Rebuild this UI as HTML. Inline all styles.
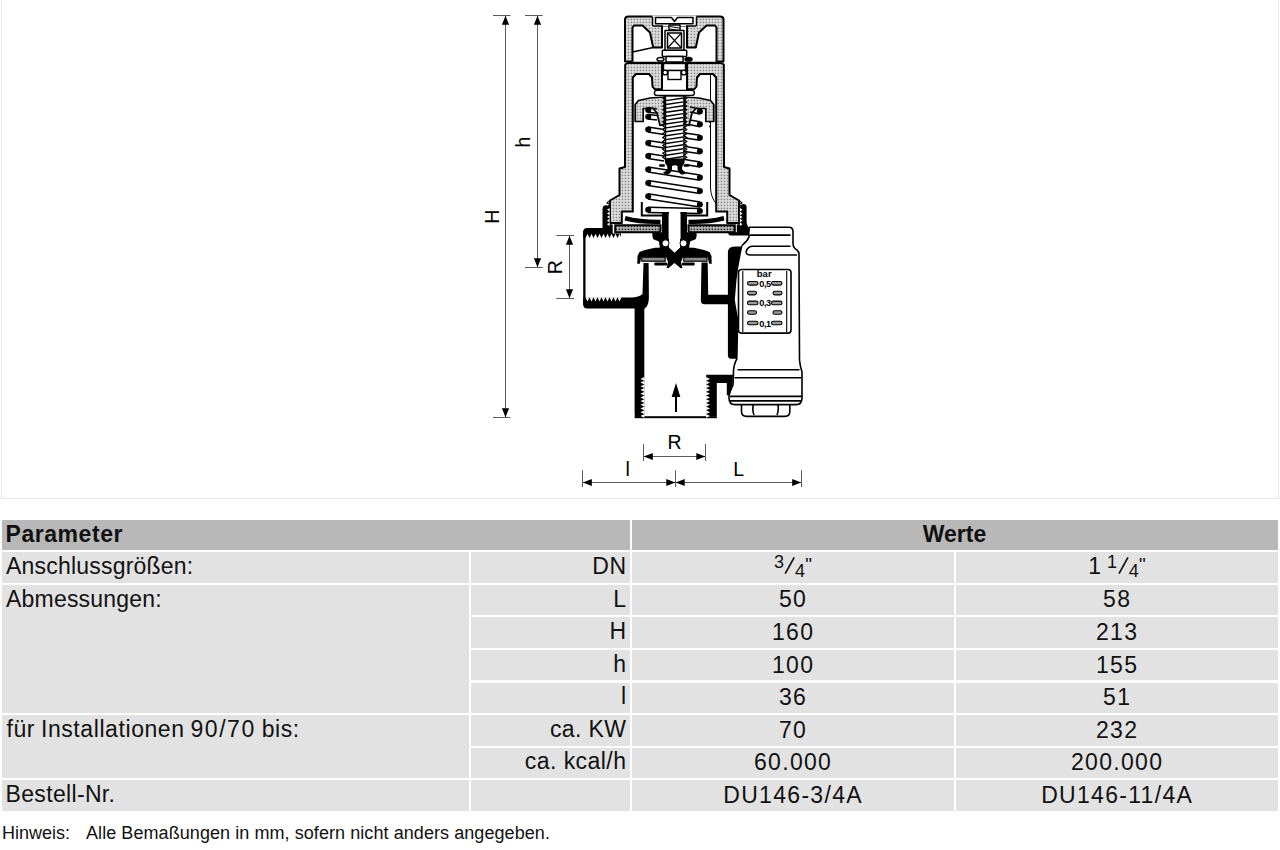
<!DOCTYPE html>
<html><head><meta charset="utf-8"><style>
html,body{margin:0;padding:0;background:#fff;width:1280px;height:850px;overflow:hidden;}
body{position:relative;font-family:"Liberation Sans", sans-serif;color:#111;}
#frame{position:absolute;left:1px;top:-2px;width:1276px;height:499px;border:1px solid #e6e6e6;}
</style></head><body>
<div id="frame"></div>
<svg style="position:absolute;left:0;top:0" width="1280" height="500" viewBox="0 0 1280 500">
<defs><pattern id="stip" width="3" height="3" patternUnits="userSpaceOnUse"><rect width="3" height="3" fill="#e6e6e6"/><rect x="0.6" y="0.6" width="1.7" height="1.7" fill="#8a8a8a"/></pattern><pattern id="stipd" width="3" height="3" patternUnits="userSpaceOnUse"><rect width="3" height="3" fill="#c8c8c8"/><rect x="0.5" y="0.5" width="1.8" height="1.8" fill="#333"/></pattern></defs>
<g stroke="#5a5a5a" stroke-width="1" fill="none">
<line x1="505.5" y1="16" x2="505.5" y2="417.5"/>
<line x1="493" y1="15.5" x2="510.5" y2="15.5"/>
<line x1="493" y1="417.5" x2="510.3" y2="417.5"/>
<line x1="537.5" y1="16" x2="537.5" y2="267.4"/>
<line x1="525" y1="15.5" x2="542.7" y2="15.5"/>
<line x1="525" y1="267.5" x2="542.7" y2="267.5"/>
<line x1="569.5" y1="236" x2="569.5" y2="298"/>
<line x1="556.4" y1="235.5" x2="574" y2="235.5"/>
<line x1="556.4" y1="298.5" x2="574" y2="298.5"/>
<line x1="644" y1="456.5" x2="705.7" y2="456.5"/>
<line x1="643.5" y1="444" x2="643.5" y2="461"/>
<line x1="705.5" y1="444" x2="705.5" y2="461"/>
<line x1="583" y1="482.5" x2="801.4" y2="482.5"/>
<line x1="582.5" y1="470.3" x2="582.5" y2="487"/>
<line x1="675.5" y1="470.3" x2="675.5" y2="487"/>
<line x1="801.5" y1="470.3" x2="801.5" y2="487"/>
</g>
<g fill="#000">
<polygon points="505.5,15.8 509.1,24.8 501.9,24.8"/>
<polygon points="505.5,417.2 501.9,408.2 509.1,408.2"/>
<polygon points="537.5,15.8 541.1,24.8 533.9,24.8"/>
<polygon points="537.5,267.2 533.9,258.2 541.1,258.2"/>
<polygon points="569.5,235.8 573.1,244.8 565.9,244.8"/>
<polygon points="569.5,298.2 565.9,289.2 573.1,289.2"/>
<polygon points="643.8,456.5 652.8,452.9 652.8,460.1"/>
<polygon points="705.3,456.5 696.3,460.1 696.3,452.9"/>
<polygon points="582.8,482.5 591.8,478.9 591.8,486.1"/>
<polygon points="675.3,482.5 666.3,486.1 666.3,478.9"/>
<polygon points="675.7,482.5 684.7,478.9 684.7,486.1"/>
<polygon points="801.2,482.5 792.2,486.1 792.2,478.9"/>
</g>
<g font-family="Liberation Sans, sans-serif" font-size="19.5" fill="#000">
<text transform="translate(498.5,223.8) rotate(-90)" x="0" y="0">H</text>
<text transform="translate(530.2,147.6) rotate(-90)" x="0" y="0">h</text>
<text transform="translate(561.5,274.3) rotate(-90)" x="0" y="0">R</text>
<text x="667.4" y="448.6">R</text>
<text x="625.6" y="475.8">l</text>
<text x="733.3" y="475.8">L</text>
</g>
<g stroke="#000" stroke-width="2" stroke-linejoin="round">
<path d="M625,61.6 L625,19.5 Q625,16.4 628.5,16.4 L720,16.4 Q723.5,16.4 723.5,19.5 L723.5,61.6 Z" fill="url(#stip)"/>
<polygon points="632.5,61.8 632.5,27.5 634.0,25.5 642.5,25.5 650.0,32.5 653.2,47.5 662.0,47.5 662.0,25.5 687.0,25.5 687.0,47.5 695.8,47.5 699.0,32.5 706.5,25.5 715.0,25.5 716.5,27.5 716.5,61.8" fill="#fff" stroke="none"/>
<polyline points="632.5,61.8 632.5,27.5 634.0,25.5 642.5,25.5 650.0,32.5 653.2,47.5 662.0,47.5 662.0,25.5 687.0,25.5 687.0,47.5 695.8,47.5 699.0,32.5 706.5,25.5 715.0,25.5 716.5,27.5 716.5,61.8" fill="none"/>
</g>
<g stroke="#000" stroke-width="1.5" fill="#fff" stroke-linejoin="round">
<path d="M652,15.5 L652,26 L696.5,26 L696.5,15.5" fill="#fff" stroke="none"/>
<path d="M652.5,16.4 V24.5 Q652.5,26 654,26 H663 M686,26 H695 Q696.5,26 696.5,24.5 V16.4" fill="none"/>
<path d="M655.5,17.5 H671.5 L674.5,21.5 L677.5,17.5 H693 V23.8 H655.5 Z"/>
<line x1="632.5" y1="52" x2="653.2" y2="47.5" stroke-width="1.4"/>
<rect x="669" y="25" width="11" height="5.5" />
<path d="M670,26.5 L679,28 M670,29 L679,30.5" stroke-width="1"/>
<rect x="665" y="30.5" width="19" height="20" />
<rect x="667.5" y="33" width="14" height="15" />
<line x1="667.5" y1="33" x2="681.5" y2="48" stroke-width="1.1"/><line x1="681.5" y1="33" x2="667.5" y2="48" stroke-width="1.1"/>
<rect x="662.3" y="50.3" width="24.4" height="6.2" rx="1"/>
<rect x="666" y="56.5" width="17" height="5.5" />
<ellipse cx="660.5" cy="59.3" rx="3.5" ry="1.8"/>
<ellipse cx="688.5" cy="59.3" rx="3.5" ry="1.8" fill="#000"/>
</g>
<g stroke="#000" stroke-width="2" stroke-linejoin="round">
<polygon points="674.5,63.0 627.5,63.0 625.2,64.5 625.0,167.0 619.5,168.5 619.5,195.0 610.0,200.5 610.0,223.0 621.8,223.0 621.8,211.5 631.5,211.5 631.5,212.0 717.5,212.0 717.5,211.5 727.2,211.5 727.2,223.0 739.0,223.0 739.0,200.5 729.5,195.0 729.5,168.5 724.0,167.0 723.8,64.5 721.5,63.0 674.5,63.0" fill="url(#stip)" stroke="none"/>
<polyline points="674.5,63.0 627.5,63.0 625.2,64.5 625.0,167.0 619.5,168.5 619.5,195.0 610.0,200.5 610.0,223.0 621.8,223.0 621.8,211.5 631.5,211.5 631.5,212.0" fill="none"/>
<polyline points="674.5,63.0 721.5,63.0 723.8,64.5 724.0,167.0 729.5,168.5 729.5,195.0 739.0,200.5 739.0,223.0 727.2,223.0 727.2,211.5 717.5,211.5 717.5,212.0" fill="none"/>
<polygon points="632.8,212.5 632.8,77.5 636.0,74.0 649.0,74.0 652.0,77.5 652.5,86.5 654.5,89.0 662.0,89.2 662.0,63.5 687.0,63.5 687.0,89.2 694.5,89.0 696.5,86.5 697.0,77.5 700.0,74.0 713.0,74.0 716.2,77.5 716.2,212.5" fill="#fff" stroke="none"/>
<polyline points="632.8,212.5 632.8,77.5 636.0,74.0 649.0,74.0 652.0,77.5 652.5,86.5 654.5,89.0 662.0,89.2 662.0,63.5 687.0,63.5 687.0,89.2 694.5,89.0 696.5,86.5 697.0,77.5 700.0,74.0 713.0,74.0 716.2,77.5 716.2,212.5" fill="none"/>
</g>
<g fill="#fff" stroke="#000" stroke-width="1.1" stroke-linejoin="miter">
<polyline points="610.0,200.5 607.0,202.9 610.2,204.8 607.0,206.7 610.2,208.6 607.0,210.5 610.2,212.4 607.0,214.3 610.2,216.2 607.0,218.1 610.2,220.0 607.0,221.9 610.2,223.8" fill="none"/>
<polyline points="739.0,200.5 742.0,202.9 738.8,204.8 742.0,206.7 738.8,208.6 742.0,210.5 738.8,212.4 742.0,214.3 738.8,216.2 742.0,218.1 738.8,220.0 742.0,221.9 738.8,223.8" fill="none"/>
</g>
<g stroke="#000" stroke-width="1.4" fill="#fff">
<rect x="663.5" y="63.5" width="22" height="7" />
<rect x="668" y="70.5" width="13" height="9" />
<circle cx="665.2" cy="72.5" r="2.4"/><circle cx="683.8" cy="72.5" r="2.4"/>
<rect x="654.4" y="90.4" width="40" height="5" rx="2.4"/>
<path d="M710.5,75 V188 Q711,198 716.5,204" fill="none" stroke-width="1"/>
<path d="M709.5,103 V130" stroke-dasharray="2,2.5" fill="none" stroke-width="0.8"/>
</g>
<g stroke="#000" stroke-width="1.7" stroke-linejoin="round" fill="url(#stip)">
<polygon points="635.2,121.5 635.2,104.5 638.5,100.5 650.0,98.0 664.5,97.0 664.5,124.0 660.0,125.5 657.0,113.0 653.0,108.5 643.2,108.5 643.2,121.5"/>
<polygon points="713.8,121.5 713.8,104.5 710.5,100.5 699.0,98.0 684.5,97.0 684.5,124.0 689.0,125.5 692.0,113.0 696.0,108.5 705.8,108.5 705.8,121.5"/>
</g>
<g stroke="#000" fill="none" stroke-width="1.5">
<path d="M648,166.9 L700,175.0 M648,172.1 L700,180.2"/>
<path d="M648,180.4 L700,188.4 M648,185.6 L700,193.6"/>
<path d="M648,193.7 L700,201.9 M648,198.9 L700,207.1"/>
<path d="M648,207.2 L700,208.4 M648,212.4 L700,213.6"/>
<path d="M648,127.1 L664,129.6 M648,132.1 L664,134.6"/>
<path d="M685,132.9 L700,135.3 M685,137.9 L700,140.3"/>
<path d="M648,140.5 L664,143.1 M648,145.5 L664,148.1"/>
<path d="M685,146.4 L700,148.8 M685,151.4 L700,153.8"/>
<path d="M648,153.5 L664,156.1 M648,158.5 L664,161.1"/>
<path d="M685,159.5 L700,161.9 M685,164.5 L700,166.9"/>
<path d="M648,107.7 L657,108.7 M648,112.3 L657,113.3"/>
<path d="M648,114.4 L657,115.4 M648,119.0 L657,120.0"/>
<path d="M690,107.1 L700,108.9 M690,111.9 L700,113.9"/>
<path d="M690,120.0 L700,121.8 M690,124.8 L700,126.8"/>
</g>
<g fill="#000">
<circle cx="648.2" cy="110" r="3.0"/>
<circle cx="648.2" cy="116.7" r="3.0"/>
<circle cx="648.2" cy="129.6" r="3.0"/>
<circle cx="648.2" cy="143" r="3.0"/>
<circle cx="648.2" cy="156" r="3.0"/>
<circle cx="648.2" cy="169.5" r="3.0"/>
<circle cx="648.2" cy="183" r="3.0"/>
<circle cx="648.2" cy="196.3" r="3.0"/>
<circle cx="648.2" cy="209.8" r="3.0"/>
<circle cx="699.9" cy="111.4" r="3.0"/>
<circle cx="699.9" cy="124.3" r="3.0"/>
<circle cx="699.9" cy="137.8" r="3.0"/>
<circle cx="699.9" cy="151.3" r="3.0"/>
<circle cx="699.9" cy="164.4" r="3.0"/>
<circle cx="699.9" cy="177.6" r="3.0"/>
<circle cx="699.9" cy="191" r="3.0"/>
<circle cx="699.9" cy="204.5" r="3.0"/>
<circle cx="699.9" cy="211" r="3.0"/>
</g>
<g stroke="#000" stroke-width="1.4">
<rect x="665.5" y="96" width="18.5" height="64" fill="#fff"/>
<line x1="666" y1="100.6" x2="683.5" y2="98.0"/>
<line x1="666" y1="104.5" x2="683.5" y2="101.9"/>
<line x1="666" y1="108.4" x2="683.5" y2="105.8"/>
<line x1="666" y1="112.3" x2="683.5" y2="109.7"/>
<line x1="666" y1="116.2" x2="683.5" y2="113.6"/>
<line x1="666" y1="120.1" x2="683.5" y2="117.5"/>
<line x1="666" y1="124.0" x2="683.5" y2="121.4"/>
<line x1="666" y1="127.9" x2="683.5" y2="125.3"/>
<line x1="666" y1="131.8" x2="683.5" y2="129.2"/>
<line x1="666" y1="135.7" x2="683.5" y2="133.1"/>
<line x1="666" y1="139.6" x2="683.5" y2="137.0"/>
<line x1="666" y1="143.5" x2="683.5" y2="140.9"/>
<line x1="666" y1="147.4" x2="683.5" y2="144.8"/>
<line x1="666" y1="151.3" x2="683.5" y2="148.7"/>
<line x1="666" y1="155.2" x2="683.5" y2="152.6"/>
<line x1="666" y1="159.1" x2="683.5" y2="156.5"/>
</g>
<g fill="#000">
<polyline points="665.5,96.0 662.8,98.0 665.5,100.0 662.8,102.0 665.5,103.9 662.8,105.9 665.5,107.9 662.8,109.8 665.5,111.8 662.8,113.8 665.5,115.8 662.8,117.8 665.5,119.7 662.8,121.7 665.5,123.7 662.8,125.7 665.5,127.6 662.8,129.6 665.5,131.5 662.8,133.6 665.5,135.5 662.8,137.5 665.5,139.4 662.8,141.4 665.5,143.4 662.8,145.4 665.5,147.3 662.8,149.3 665.5,151.3 662.8,153.3 665.5,155.2 662.8,157.2 665.5,159.2" fill="none" stroke="#000" stroke-width="1.3"/>
<polyline points="684.0,96.0 686.7,98.0 684.0,100.0 686.7,102.0 684.0,103.9 686.7,105.9 684.0,107.9 686.7,109.8 684.0,111.8 686.7,113.8 684.0,115.8 686.7,117.8 684.0,119.7 686.7,121.7 684.0,123.7 686.7,125.7 684.0,127.6 686.7,129.6 684.0,131.5 686.7,133.6 684.0,135.5 686.7,137.5 684.0,139.4 686.7,141.4 684.0,143.4 686.7,145.4 684.0,147.3 686.7,149.3 684.0,151.3 686.7,153.3 684.0,155.2 686.7,157.2 684.0,159.2" fill="none" stroke="#000" stroke-width="1.3"/>
<path d="M665,158.5 H684.5 V163 Q681.5,166 682,169 Q683,171.5 686.5,172.5 Q684,175.5 680.5,174 Q677,171.5 677.5,166 Q675,164.5 672,166 Q672.5,171.5 669,174 Q665.5,175.5 663,172.5 Q666.5,171.5 667.5,169 Q668,166 665,163 Z"/>
<rect x="659" y="164.2" width="6" height="2.6" rx="1.2"/><rect x="683.5" y="164.2" width="6" height="2.6" rx="1.2"/>
</g>
<g stroke="#000" stroke-width="2" fill="none">
<path d="M641.8,202 V215.5 H664"/>
<path d="M707.2,202 V215.5 H685"/>
</g>
<g fill="#000">
<path d="M625.5,216 Q640,220 660.5,219.8 L660.5,224 Q640,224.5 624.5,220.5 Z"/>
<path d="M723.5,216 Q709,220 688.5,219.8 L688.5,224 Q709,224.5 724.5,220.5 Z"/>
<path d="M662,211.9 H668.6 V246 L662.5,246 Q660,241 655,240 Q652.4,239 652.4,236 V232.3 H662 Z"/>
<path d="M687,211.9 H680.4 V246 L686.5,246 Q689,241 694,240 Q696.6,239 696.6,236 V232.3 H687 Z"/>
</g>
<g stroke="#000" stroke-width="2" fill="url(#stipd)">
<path d="M615.2,225.2 H660.5 V230 Q660.5,232.3 658,232.3 H615.2 Z"/>
<path d="M734.8,225.2 H688.5 V230 Q688.5,232.3 691,232.3 H734.8 Z"/>
</g>
<g fill="#000">
<path d="M602.5,209 Q602.5,205.2 606,205.2 Q609,205.2 609.5,207 L609.5,224 L612.7,224.5 L612.7,233.5 L621,233.5 L621,238 L583.2,238 L583.2,232 Q583.2,228 587,228 L602.5,228 Z"/>
<path d="M740.5,207 Q740.5,204.1 743.5,204.1 Q746.6,204.1 746.6,207 L746.6,222 Q747,227 750,228 L749.4,235.5 L731,235.5 Q728.3,235.5 728.3,233.5 L728.3,232.3 L736.8,232.3 L736.8,224.5 L740.5,224 Z"/>
<path d="M583.2,297.4 L631,297.4 Q639,297.4 642.5,294 L643.5,263 L648.6,263 L648.9,298 Q648.6,306 644.3,309 L644.3,418 L638,418 Q634.6,418 634.6,414 L634.6,308.5 L587,308.5 Q583.2,308.5 583.2,304 Z"/>
<path d="M701.5,262.5 L707.7,262.5 L708.2,294.8 L727.9,294.8 L727.9,252 Q728,246.6 736,246.6 L741.6,246.6 Q738,262 735.7,280 L734,300 L735.7,310 L737.6,320 L736.8,358.8 L731,358.8 Q727.9,358.8 727.9,355 L727.9,304.3 L704.5,304.3 Q700.8,304.3 700.8,300 Z"/>
<path d="M706.2,374.7 L733,374.7 L732.5,385 L730,395.3 L726.8,395.3 L726.8,383 L716.8,383 L716.8,416.5 L706.2,416.5 Z"/>
<rect x="583.2" y="231" width="2.3" height="74"/>
<rect x="634.6" y="416.2" width="82.2" height="2"/>
<polygon points="674.5,252.5 669.0,247.5 655.0,247.8 645.0,250.0 639.5,252.0 637.5,256.0 637.3,264.0 640.0,263.5 641.3,257.0 666.0,257.0 668.0,262.0 666.5,267.9 668.3,268.2 674.5,263.0 674.5,263.0 680.7,268.2 682.5,267.9 681.0,262.0 683.0,257.0 707.7,257.0 709.0,263.5 711.7,264.0 711.5,256.0 709.5,252.0 704.0,250.0 694.0,247.8 680.0,247.5 674.5,252.5"/>
<rect x="654.3" y="262.6" width="13" height="2.8" rx="1"/>
<rect x="682" y="262.6" width="12.7" height="2.8" rx="1"/>
</g>
<g stroke="#000" stroke-width="1.2" fill="#8a8a8a">
<rect x="641.8" y="257.2" width="23.4" height="4"/>
<rect x="683.8" y="257.2" width="23.2" height="4"/>
</g>
<path d="M669,211 H680.3 V247 L674.5,252.5 L669,247 Z" fill="#fff"/>
<path d="M658.5,239 L669,239 L669,248.5 L660,248.5 Z M690.5,239 L680,239 L680,248.5 L689,248.5 Z" fill="#000"/>
<g fill="#fff" stroke="#000" stroke-width="1">
<circle cx="665.5" cy="243.3" r="3.5"/><circle cx="683.5" cy="243.3" r="3.5"/>
</g>
<g fill="#fff">
<polygon points="585.5,238.1 587.5,233.8 589.5,238.1"/>
<polygon points="585.5,297.3 587.5,301.6 589.5,297.3"/>
<polygon points="589.5,238.1 591.5,233.8 593.5,238.1"/>
<polygon points="589.5,297.3 591.5,301.6 593.5,297.3"/>
<polygon points="593.5,238.1 595.5,233.8 597.5,238.1"/>
<polygon points="593.5,297.3 595.5,301.6 597.5,297.3"/>
<polygon points="597.5,238.1 599.5,233.8 601.5,238.1"/>
<polygon points="597.5,297.3 599.5,301.6 601.5,297.3"/>
<polygon points="601.5,238.1 603.5,233.8 605.5,238.1"/>
<polygon points="601.5,297.3 603.5,301.6 605.5,297.3"/>
<polygon points="605.5,238.1 607.5,233.8 609.5,238.1"/>
<polygon points="605.5,297.3 607.5,301.6 609.5,297.3"/>
<polygon points="609.5,238.1 611.5,233.8 613.5,238.1"/>
<polygon points="609.5,297.3 611.5,301.6 613.5,297.3"/>
<polygon points="613.5,238.1 615.5,233.8 617.5,238.1"/>
<polygon points="613.5,297.3 615.5,301.6 617.5,297.3"/>
<polygon points="617.5,238.1 619.5,233.8 621.5,238.1"/>
<polygon points="617.5,297.3 619.5,301.6 621.5,297.3"/>
<polygon points="644.4,377.0 640.5,378.9 644.4,380.7"/>
<polygon points="706.1,377.0 710.0,378.9 706.1,380.7"/>
<polygon points="644.4,380.7 640.5,382.6 644.4,384.4"/>
<polygon points="706.1,380.7 710.0,382.6 706.1,384.4"/>
<polygon points="644.4,384.4 640.5,386.2 644.4,388.1"/>
<polygon points="706.1,384.4 710.0,386.2 706.1,388.1"/>
<polygon points="644.4,388.1 640.5,390.0 644.4,391.8"/>
<polygon points="706.1,388.1 710.0,390.0 706.1,391.8"/>
<polygon points="644.4,391.8 640.5,393.7 644.4,395.5"/>
<polygon points="706.1,391.8 710.0,393.7 706.1,395.5"/>
<polygon points="644.4,395.5 640.5,397.4 644.4,399.2"/>
<polygon points="706.1,395.5 710.0,397.4 706.1,399.2"/>
<polygon points="644.4,399.2 640.5,401.1 644.4,402.9"/>
<polygon points="706.1,399.2 710.0,401.1 706.1,402.9"/>
<polygon points="644.4,402.9 640.5,404.8 644.4,406.6"/>
<polygon points="706.1,402.9 710.0,404.8 706.1,406.6"/>
<polygon points="644.4,406.6 640.5,408.5 644.4,410.3"/>
<polygon points="706.1,406.6 710.0,408.5 706.1,410.3"/>
<polygon points="644.4,410.3 640.5,412.2 644.4,414.0"/>
<polygon points="706.1,410.3 710.0,412.2 706.1,414.0"/>
<polygon points="644.4,414.0 640.5,415.9 644.4,417.7"/>
<polygon points="706.1,414.0 710.0,415.9 706.1,417.7"/>
<polygon points="609.6,208.0 607.0,209.8 609.6,211.6"/>
<polygon points="739.9,208.0 742.5,209.8 739.9,211.6"/>
<polygon points="609.6,211.6 607.0,213.4 609.6,215.2"/>
<polygon points="739.9,211.6 742.5,213.4 739.9,215.2"/>
<polygon points="609.6,215.2 607.0,217.0 609.6,218.8"/>
<polygon points="739.9,215.2 742.5,217.0 739.9,218.8"/>
<polygon points="609.6,218.8 607.0,220.6 609.6,222.4"/>
<polygon points="739.9,218.8 742.5,220.6 739.9,222.4"/>
<polygon points="609.6,222.4 607.0,224.2 609.6,226.0"/>
<polygon points="739.9,222.4 742.5,224.2 739.9,226.0"/>
</g>
<g fill="#000"><rect x="675" y="393" width="2" height="19"/><polygon points="676,383 671.6,397 680.4,397"/></g>
<g stroke="#000" stroke-width="1.6" fill="none" stroke-linejoin="round">
<path d="M749,227.2 L789,227.2 Q793,227.2 793,231.5 L793,243.6 Q793,248 797,250 Q799,251.5 799,255 L799.5,360 Q800,366 802,372 L802,398 Q802,404.6 796,404.6 L735,404.6 Q729,404.6 729,398 L729,394"/>
<path d="M749.5,235.1 L790.5,235.1"/>
<path d="M797,255 L750.5,255 Q745.8,255 746.2,251.5 Q747.5,246.2 753,246.2 L790.5,246.2"/>
<path d="M749.4,235 Q748.5,240 744,243.5 Q741.5,246 741.6,246.6 M741.6,246.6 Q738,262 735.7,280 L734,300 L735.7,310 L737.6,320 L736.8,358.8 Q733,366 733.5,374.7 L733,385 L729,394"/>
<path d="M737.5,369.7 L799.5,369.7 M734.5,377.8 L801.5,377.8 M730,396.4 L802,396.4 M730,400.9 L802,400.9"/>
<path d="M741.5,404.6 V411.5 Q741.5,416.4 746.5,416.4 L785,416.4 Q789.8,416.4 789.8,411.5 V404.6 M753.4,404.6 Q752,410 754,415 M777.9,404.6 Q779,410 777,415"/>
<path d="M741,333.1 Q738.5,333 738.5,330 L738.5,272.5 Q738.5,269.5 741.5,269.5 L788,269.5 Q791,269.5 791,272.5 L791,330 Q791,333.1 788,333.1 Z"/>
<path d="M742.8,271 V332 M786.7,271 V332" stroke-width="1.1"/>
</g>
<g font-family="Liberation Sans, sans-serif" font-weight="700" fill="#000">
<text x="756.8" y="277.3" font-size="9.5">bar</text>
<text x="759.2" y="286.8" font-size="9.2" letter-spacing="-0.4">0,5</text>
<text x="759.2" y="306.4" font-size="9.2" letter-spacing="-0.4">0,3</text>
<text x="759.2" y="326.5" font-size="9.2" letter-spacing="-0.4">0,1</text>
</g>
<g stroke="#000" stroke-width="1.1" fill="#9a9a9a">
<rect x="747.5" y="281.5" width="10.5" height="3.6" rx="1.8"/><rect x="771.5" y="281.5" width="10.5" height="3.6" rx="1.8"/>
<rect x="747.5" y="291.3" width="9.0" height="3.6" rx="1.8"/><rect x="773" y="291.3" width="9.0" height="3.6" rx="1.8"/>
<rect x="747.5" y="301.1" width="10.5" height="3.6" rx="1.8"/><rect x="771.5" y="301.1" width="10.5" height="3.6" rx="1.8"/>
<rect x="747.5" y="310.7" width="9.0" height="3.6" rx="1.8"/><rect x="773" y="310.7" width="9.0" height="3.6" rx="1.8"/>
<rect x="747.5" y="321.2" width="10.5" height="3.6" rx="1.8"/><rect x="771.5" y="321.2" width="10.5" height="3.6" rx="1.8"/>
</g>
</svg>
<div style="position:absolute;left:2.00px;top:520.00px;width:627.50px;height:30.30px;background:#b8b8b8"></div>
<div style="position:absolute;left:631.50px;top:520.00px;width:646.10px;height:30.30px;background:#b8b8b8"></div>
<div style="position:absolute;top:520.93px;font-size:23px;line-height:26px;font-weight:700;white-space:nowrap;letter-spacing:0.55px;left:5.50px;">Parameter</div>
<div style="position:absolute;top:520.93px;font-size:23px;line-height:26px;font-weight:700;white-space:nowrap;left:654.50px;width:600px;text-align:center;">Werte</div>
<div style="position:absolute;left:2.00px;top:552.30px;width:466.50px;height:30.55px;background:#e2e2e2"></div>
<div style="position:absolute;left:2.00px;top:584.85px;width:466.50px;height:128.20px;background:#e2e2e2"></div>
<div style="position:absolute;left:2.00px;top:715.05px;width:466.50px;height:63.10px;background:#e2e2e2"></div>
<div style="position:absolute;left:2.00px;top:780.15px;width:466.50px;height:30.55px;background:#e2e2e2"></div>
<div style="position:absolute;left:470.50px;top:552.30px;width:159.00px;height:30.55px;background:#e2e2e2"></div>
<div style="position:absolute;left:631.50px;top:552.30px;width:322.00px;height:30.55px;background:#e2e2e2"></div>
<div style="position:absolute;left:955.50px;top:552.30px;width:322.10px;height:30.55px;background:#e2e2e2"></div>
<div style="position:absolute;left:470.50px;top:584.85px;width:159.00px;height:30.55px;background:#e2e2e2"></div>
<div style="position:absolute;left:631.50px;top:584.85px;width:322.00px;height:30.55px;background:#e2e2e2"></div>
<div style="position:absolute;left:955.50px;top:584.85px;width:322.10px;height:30.55px;background:#e2e2e2"></div>
<div style="position:absolute;left:470.50px;top:617.40px;width:159.00px;height:30.55px;background:#e2e2e2"></div>
<div style="position:absolute;left:631.50px;top:617.40px;width:322.00px;height:30.55px;background:#e2e2e2"></div>
<div style="position:absolute;left:955.50px;top:617.40px;width:322.10px;height:30.55px;background:#e2e2e2"></div>
<div style="position:absolute;left:470.50px;top:649.95px;width:159.00px;height:30.55px;background:#e2e2e2"></div>
<div style="position:absolute;left:631.50px;top:649.95px;width:322.00px;height:30.55px;background:#e2e2e2"></div>
<div style="position:absolute;left:955.50px;top:649.95px;width:322.10px;height:30.55px;background:#e2e2e2"></div>
<div style="position:absolute;left:470.50px;top:682.50px;width:159.00px;height:30.55px;background:#e2e2e2"></div>
<div style="position:absolute;left:631.50px;top:682.50px;width:322.00px;height:30.55px;background:#e2e2e2"></div>
<div style="position:absolute;left:955.50px;top:682.50px;width:322.10px;height:30.55px;background:#e2e2e2"></div>
<div style="position:absolute;left:470.50px;top:715.05px;width:159.00px;height:30.55px;background:#e2e2e2"></div>
<div style="position:absolute;left:631.50px;top:715.05px;width:322.00px;height:30.55px;background:#e2e2e2"></div>
<div style="position:absolute;left:955.50px;top:715.05px;width:322.10px;height:30.55px;background:#e2e2e2"></div>
<div style="position:absolute;left:470.50px;top:747.60px;width:159.00px;height:30.55px;background:#e2e2e2"></div>
<div style="position:absolute;left:631.50px;top:747.60px;width:322.00px;height:30.55px;background:#e2e2e2"></div>
<div style="position:absolute;left:955.50px;top:747.60px;width:322.10px;height:30.55px;background:#e2e2e2"></div>
<div style="position:absolute;left:470.50px;top:780.15px;width:159.00px;height:30.55px;background:#e2e2e2"></div>
<div style="position:absolute;left:631.50px;top:780.15px;width:322.00px;height:30.55px;background:#e2e2e2"></div>
<div style="position:absolute;left:955.50px;top:780.15px;width:322.10px;height:30.55px;background:#e2e2e2"></div>
<div style="position:absolute;top:553.13px;font-size:23px;line-height:26px;font-weight:400;white-space:nowrap;letter-spacing:0.21px;left:6.00px;">Anschlussgrößen:</div>
<div style="position:absolute;top:585.68px;font-size:23px;line-height:26px;font-weight:400;white-space:nowrap;letter-spacing:0.2px;left:6.00px;">Abmessungen:</div>
<div style="position:absolute;top:715.88px;font-size:23px;line-height:26px;font-weight:400;white-space:nowrap;letter-spacing:0.58px;word-spacing:-1.1px;left:6.50px;">für Installationen <span style="letter-spacing:1.55px">90/70</span> bis:</div>
<div style="position:absolute;top:780.98px;font-size:23px;line-height:26px;font-weight:400;white-space:nowrap;letter-spacing:0.34px;left:5.50px;">Bestell-Nr.</div>
<div style="position:absolute;top:553.13px;font-size:23px;line-height:26px;font-weight:400;white-space:nowrap;letter-spacing:0.6px;right:653.40px;">DN</div>
<div style="position:absolute;top:585.68px;font-size:23px;line-height:26px;font-weight:400;white-space:nowrap;right:654.00px;">L</div>
<div style="position:absolute;top:618.23px;font-size:23px;line-height:26px;font-weight:400;white-space:nowrap;right:654.00px;">H</div>
<div style="position:absolute;top:650.78px;font-size:23px;line-height:26px;font-weight:400;white-space:nowrap;right:654.00px;">h</div>
<div style="position:absolute;top:683.33px;font-size:23px;line-height:26px;font-weight:400;white-space:nowrap;right:654.00px;">l</div>
<div style="position:absolute;top:715.88px;font-size:23px;line-height:26px;font-weight:400;white-space:nowrap;letter-spacing:0.4px;right:653.60px;">ca. KW</div>
<div style="position:absolute;top:748.43px;font-size:23px;line-height:26px;font-weight:400;white-space:nowrap;letter-spacing:0.45px;right:653.55px;">ca. kcal/h</div>
<div style="position:absolute;top:586.48px;font-size:23px;line-height:26px;font-weight:400;white-space:nowrap;letter-spacing:1.3px;left:493.10px;width:600px;text-align:center;">50</div>
<div style="position:absolute;top:586.48px;font-size:23px;line-height:26px;font-weight:400;white-space:nowrap;letter-spacing:1.3px;left:817.15px;width:600px;text-align:center;">58</div>
<div style="position:absolute;top:619.03px;font-size:23px;line-height:26px;font-weight:400;white-space:nowrap;letter-spacing:1.3px;left:493.10px;width:600px;text-align:center;">160</div>
<div style="position:absolute;top:619.03px;font-size:23px;line-height:26px;font-weight:400;white-space:nowrap;letter-spacing:1.3px;left:817.15px;width:600px;text-align:center;">213</div>
<div style="position:absolute;top:651.58px;font-size:23px;line-height:26px;font-weight:400;white-space:nowrap;letter-spacing:1.3px;left:493.10px;width:600px;text-align:center;">100</div>
<div style="position:absolute;top:651.58px;font-size:23px;line-height:26px;font-weight:400;white-space:nowrap;letter-spacing:1.3px;left:817.15px;width:600px;text-align:center;">155</div>
<div style="position:absolute;top:684.13px;font-size:23px;line-height:26px;font-weight:400;white-space:nowrap;letter-spacing:1.3px;left:493.10px;width:600px;text-align:center;">36</div>
<div style="position:absolute;top:684.13px;font-size:23px;line-height:26px;font-weight:400;white-space:nowrap;letter-spacing:1.3px;left:817.15px;width:600px;text-align:center;">51</div>
<div style="position:absolute;top:716.68px;font-size:23px;line-height:26px;font-weight:400;white-space:nowrap;letter-spacing:1.3px;left:493.10px;width:600px;text-align:center;">70</div>
<div style="position:absolute;top:716.68px;font-size:23px;line-height:26px;font-weight:400;white-space:nowrap;letter-spacing:1.3px;left:817.15px;width:600px;text-align:center;">232</div>
<div style="position:absolute;top:749.23px;font-size:23px;line-height:26px;font-weight:400;white-space:nowrap;letter-spacing:1.3px;left:493.10px;width:600px;text-align:center;">60.000</div>
<div style="position:absolute;top:749.23px;font-size:23px;line-height:26px;font-weight:400;white-space:nowrap;letter-spacing:1.3px;left:817.15px;width:600px;text-align:center;">200.000</div>
<div style="position:absolute;top:781.78px;font-size:23px;line-height:26px;font-weight:400;white-space:nowrap;letter-spacing:1.3px;left:493.10px;width:600px;text-align:center;">DU146-3/4A</div>
<div style="position:absolute;top:781.78px;font-size:23px;line-height:26px;font-weight:400;white-space:nowrap;letter-spacing:1.3px;left:817.15px;width:600px;text-align:center;">DU146-11/4A</div>
<svg style="position:absolute;left:0;top:0" width="1280" height="850" viewBox="0 0 1280 850"><g font-family="Liberation Sans, sans-serif" fill="#111"><text x="774.0" y="567.6" font-size="18">3</text><line x1="785.2" y1="573.6" x2="794.2" y2="557.4" stroke="#111" stroke-width="1.7"/><text x="795.0" y="576.9" font-size="18">4</text><text x="805.2" y="570.9" font-size="19">&quot;</text><text x="1088.2" y="573.75" font-size="23">1</text><text x="1107.0" y="567.8" font-size="18">1</text><line x1="1119.0" y1="573.6" x2="1128.0" y2="557.4" stroke="#111" stroke-width="1.7"/><text x="1128.8" y="577.0" font-size="18">4</text><text x="1138.9" y="570.9" font-size="19">&quot;</text></g></svg>
<div style="position:absolute;top:822.51px;font-size:18px;line-height:21px;font-weight:400;white-space:nowrap;left:2.00px;">Hinweis:</div>
<div style="position:absolute;top:822.51px;font-size:18px;line-height:21px;font-weight:400;white-space:nowrap;letter-spacing:0.07px;left:86.00px;">Alle Bemaßungen in mm, sofern nicht anders angegeben.</div>
</body></html>
